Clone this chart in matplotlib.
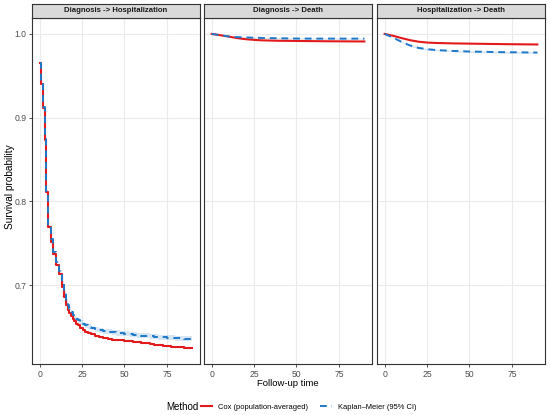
import numpy as np
import matplotlib
matplotlib.use("Agg")
import matplotlib.pyplot as plt
from matplotlib.lines import Line2D

plt.rcParams['font.family'] = ['Liberation Sans', 'DejaVu Sans']

# data ------------------------------------------------------------
panels = ["Diagnosis -> Hospitalization", "Diagnosis -> Death", "Hospitalization -> Death"]

# Diagnosis -> Hospitalization (step curves)
dh_t = [0, 0.8, 1.8, 2.9, 4.0, 4.9, 6.5, 8.1, 9.8, 11.4, 13.0, 14.3, 15.7,
        16.5, 17.5, 18.5, 19.5, 20.5, 21.5, 22.5, 24, 25.5, 27, 28.5, 30,
        32.5, 35, 37.5, 40, 42.5, 45, 47.5, 50, 52.5, 55, 57.5, 60,
        62.5, 65, 67.5, 70, 72.5, 75, 77.5, 80, 82.5, 85, 87.5, 90]
dh_cox = [0.965, 0.940, 0.912, 0.873, 0.811, 0.769, 0.752, 0.737, 0.724, 0.713, 0.6985, 0.6865, 0.676,
          0.671, 0.667, 0.663, 0.660, 0.657, 0.654, 0.652, 0.649, 0.6465, 0.6445, 0.643, 0.6415,
          0.6395, 0.638, 0.637, 0.636, 0.6352, 0.6347, 0.6342, 0.6337, 0.6332, 0.6327, 0.632, 0.6313,
          0.6305, 0.6297, 0.629, 0.6283, 0.6277, 0.6272, 0.6266, 0.6261, 0.6257, 0.6254, 0.6251, 0.6249]
dh_km = [0.965, 0.940, 0.913, 0.874, 0.813, 0.771, 0.755, 0.740, 0.728, 0.717, 0.703, 0.691, 0.681,
         0.676, 0.672, 0.668, 0.665, 0.6625, 0.660, 0.658, 0.6555, 0.654, 0.652, 0.6505, 0.649,
         0.6475, 0.646, 0.645, 0.6443, 0.6437, 0.643, 0.6425, 0.642, 0.6415, 0.641, 0.6405, 0.640,
         0.6395, 0.639, 0.6386, 0.6382, 0.6378, 0.6375, 0.6371, 0.6368, 0.6365, 0.6362, 0.636, 0.6358]
dh_ci = [0.0, 0.0005, 0.001, 0.001, 0.001, 0.001, 0.001, 0.0012, 0.0015, 0.0015, 0.0018, 0.002, 0.002,
         0.002, 0.002, 0.0022, 0.0022, 0.0024, 0.0025, 0.0025, 0.0026, 0.0027, 0.0028, 0.0028, 0.0029,
         0.003, 0.003, 0.003, 0.003, 0.003, 0.003, 0.003, 0.003, 0.003, 0.003, 0.003, 0.003,
         0.003, 0.003, 0.003, 0.003, 0.003, 0.003, 0.003, 0.003, 0.003, 0.003, 0.003, 0.003]

# Diagnosis -> Death
dd_t = [0, 5, 10, 15, 20, 25, 30, 40, 50, 60, 70, 80, 90]
dd_cox = [1.0, 0.9985, 0.9968, 0.9950, 0.9937, 0.9929, 0.9923, 0.9918, 0.9916, 0.9914, 0.9912, 0.9911, 0.9910]
dd_km = [1.0, 0.9985, 0.9970, 0.9962, 0.9958, 0.9955, 0.9952, 0.9948, 0.9945, 0.9944, 0.9944, 0.9944, 0.9944]
dd_ci = [0.0, 0.0003, 0.0005, 0.0006, 0.0006, 0.0007, 0.0007, 0.0007, 0.0008, 0.0008, 0.0008, 0.0008, 0.0008]

# Hospitalization -> Death
hd_t = [0, 5, 10, 15, 20, 25, 30, 40, 50, 60, 70, 80, 90]
hd_cox = [1.0, 0.9978, 0.9950, 0.9925, 0.9907, 0.9897, 0.9892, 0.9887, 0.9884, 0.9881, 0.9878, 0.9876, 0.9874]
hd_km = [1.0, 0.9955, 0.9905, 0.9862, 0.9833, 0.9818, 0.9808, 0.9797, 0.9790, 0.9786, 0.9782, 0.9780, 0.9778]
hd_ci = [0.0, 0.0005, 0.0008, 0.0009, 0.001, 0.001, 0.001, 0.001, 0.0011, 0.0011, 0.0011, 0.0011, 0.0011]

series = [(dh_t, dh_cox, dh_km, dh_ci, 'steps-post'),
          (dd_t, dd_cox, dd_km, dd_ci, 'default'),
          (hd_t, hd_cox, hd_km, hd_ci, 'default')]

RED = '#E31A1C'
BLUE = '#1F78C8'

fig = plt.figure(figsize=(5.5, 4.15), dpi=100)
W, H = 550, 415
lefts = [32, 204, 377]
pw = 168
ptop, pbot = 18, 364

for i, (t, cox, km, ci, ds) in enumerate(series):
    ax = fig.add_axes([lefts[i] / W, 1 - pbot / H, pw / W, (pbot - ptop) / H])
    t = np.array(t)
    km = np.array(km)
    ci = np.array(ci)
    step = 'post' if ds == 'steps-post' else None
    ax.fill_between(t, km - ci, km + ci, step=step, color=BLUE, alpha=0.18, lw=0)
    ax.plot(t, cox, color=RED, lw=1.5, drawstyle=ds, zorder=3)
    ax.plot(t, km, color=BLUE, lw=1.4, ls=(0, (3.5, 2.5)), drawstyle=ds, zorder=4)
    ax.set_xlim(-4.5, 94.5)
    ax.set_ylim(0.606, 1.019)
    ax.set_xticks([0, 25, 50, 75])
    ax.set_yticks([0.7, 0.8, 0.9, 1.0])
    ax.grid(True, color='#EBEBEB', lw=0.8)
    ax.set_axisbelow(True)
    for s in ax.spines.values():
        s.set_color('#333333')
        s.set_linewidth(0.8)
    ax.tick_params(length=2.5, width=0.6, color='#333333', labelcolor='#4D4D4D',
                   labelsize=6.2, pad=1.5)
    if i == 0:
        ax.set_yticklabels(['0.7', '0.8', '0.9', '1.0'])
    else:
        ax.tick_params(axis='y', labelleft=False, length=0)
    # strip
    sax = fig.add_axes([lefts[i] / W, 1 - ptop / H, pw / W, 14 / H])
    sax.set_facecolor('#D9D9D9')
    sax.set_xticks([])
    sax.set_yticks([])
    for s in sax.spines.values():
        s.set_color('#333333')
        s.set_linewidth(0.8)
    sax.text(0.5, 0.5, panels[i], ha='center', va='center', fontsize=5.6,
             fontweight='bold', color='#1A1A1A', transform=sax.transAxes)

fig.text(10 / W, 1 - 187 / H, 'Survival probability', rotation=90, ha='center',
         va='center', fontsize=7.3)
fig.text(288 / W, 1 - 383 / H, 'Follow-up time', ha='center', va='center', fontsize=6.8)

fig.text(166 / W, 1 - 407 / H, 'Method', ha='left', va='center', fontsize=7.0)
handles = [Line2D([], [], color=RED, lw=1.5),
           Line2D([], [], color=BLUE, lw=1.4, ls=(0, (3.5, 2.5)))]
fig.legend(handles, ['Cox (population-averaged)', 'Kaplan\u2013Meier (95% CI)'],
           loc='center left', bbox_to_anchor=(201 / W, 1 - 407 / H), ncol=2,
           frameon=False, fontsize=5.4, handlelength=1.5, columnspacing=1.6,
           handletextpad=0.8, borderpad=0, borderaxespad=0)

fig.savefig('out.png', dpi=100)
